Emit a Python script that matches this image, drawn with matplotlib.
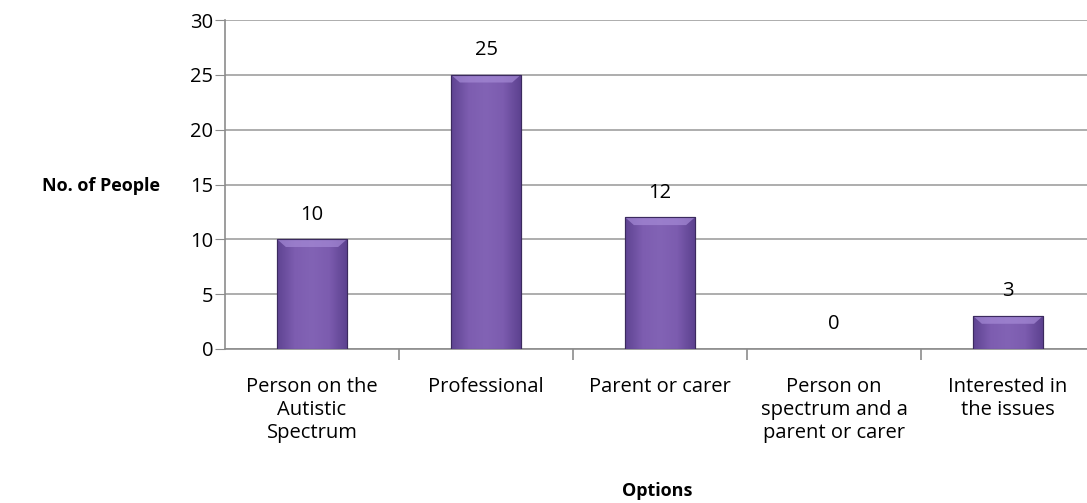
import numpy as np
import matplotlib.pyplot as plt
from matplotlib.colors import LinearSegmentedColormap
from matplotlib.patches import Rectangle

categories = ["Person on the\nAutistic\nSpectrum", "Professional", "Parent or carer",
              "Person on\nspectrum and a\nparent or carer", "Interested in\nthe issues"]
counts = [10, 25, 12, 0, 3]
yticks = [0, 5, 10, 15, 20, 25, 30]

plt.rcParams['font.family'] = ['Open Sans', 'DejaVu Sans']

fig = plt.figure(figsize=(10.87, 5.03), dpi=100)
# right edge of the plot area runs past the picture, as in the original
ax = fig.add_axes([225 / 1087, 1 - 349 / 503, 870 / 1087, 329 / 503])

x = np.arange(len(categories))
width = 0.4
cmap = LinearSegmentedColormap.from_list("bar", ["#5f4492", "#7d5db0", "#8263b5", "#7c5caf", "#5d4290"])
grad = np.linspace(0, 1, 64).reshape(1, -1)

bars = ax.bar(x, counts, width, color="#7d5db0", edgecolor="#3b2a5e", linewidth=0.8, zorder=3)
for b in bars:
    h = b.get_height()
    if h <= 0:
        continue
    x0 = b.get_x()
    im = ax.imshow(grad, cmap=cmap, aspect="auto", extent=[x0, x0 + width, 0, h], zorder=3.5)
    im.set_clip_path(b)
    # top bevel highlight
    bev = min(0.7, h * 0.3)
    ax.fill([x0, x0 + width, x0 + width - 0.05, x0 + 0.05], [h, h, h - bev, h - bev],
            color="#a58ad6", alpha=0.7, zorder=3.6, lw=0)
    ax.add_patch(Rectangle((x0, 0), width, h, fill=False, edgecolor="#3b2a5e", lw=0.8, zorder=3.8))

for xi, v in zip(x, counts):
    ax.text(xi, v + 1.35, str(v), ha="center", va="bottom", fontsize=14.5, color="black")

ax.set_xlim(-0.5, len(categories) - 0.5)
ax.set_ylim(0, 30)
ax.set_yticks(yticks)
ax.tick_params(axis="y", labelsize=14.5, length=7, color="#8c8c8c", pad=1.5)
ax.yaxis.grid(True, color="#a0a0a0", linewidth=1.2, zorder=0)
ax.set_axisbelow(True)

ax.set_xticks(x)
ax.set_xticklabels(categories, fontsize=14.5, linespacing=1.2)
ax.tick_params(axis="x", length=0, pad=20)
ax.set_xticks(np.arange(0.5, len(categories) - 0.5, 1), minor=True)
ax.tick_params(axis="x", which="minor", length=8, color="#8c8c8c", width=1.2)

for s in ["top", "right"]:
    ax.spines[s].set_visible(False)
for s in ["left", "bottom"]:
    ax.spines[s].set_color("#8c8c8c")
    ax.spines[s].set_linewidth(1.2)

fig.text(160 / 1087, 1 - 186 / 503, "No. of People", ha="right", va="center", fontsize=13, fontweight="bold")
fig.text(657 / 1087, 1 - 491 / 503, "Options", ha="center", va="center", fontsize=13, fontweight="bold")

fig.savefig("out.png", dpi=100)
